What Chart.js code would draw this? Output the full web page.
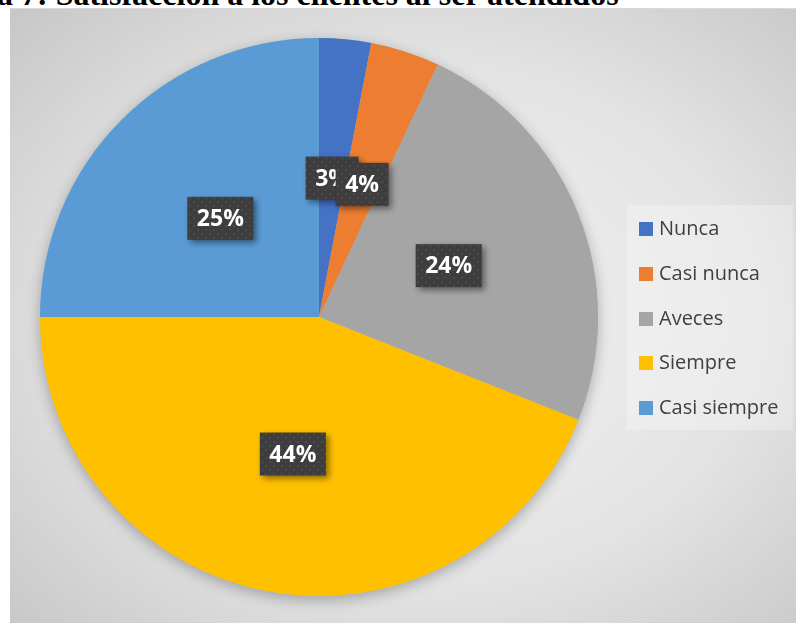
<!DOCTYPE html>
<html lang="es">
<head>
<meta charset="utf-8">
<script src="https://cdn.jsdelivr.net/npm/chart.js@4"></script>
<style>
    html, body { margin: 0; padding: 0; background: #fff; }
    body { width: 796px; height: 623px; position: relative; overflow: hidden; }
    #caption {
        position: absolute; left: -3px; top: -22px;
        font: bold 32px "Liberation Serif", "DejaVu Serif", serif;
        color: #000; white-space: nowrap; line-height: 32px;
    }
    #panel {
        position: absolute; left: 10px; top: 8px; width: 800px; height: 630px;
        box-sizing: border-box; border-top: 1px solid #d9d9d9;
        background: radial-gradient(ellipse 75% 75% at 52% 50%, #f3f3f3 0%, #e3e3e3 55%, #c4c4c4 100%);
    }
    #chartBox { position: absolute; left: 0; top: 0; width: 796px; height: 623px; }
    #legend {
        position: absolute; left: 627px; top: 205px; width: 166px; height: 225px;
        background: rgba(255, 255, 255, 0.28);
        font: 20px "Open Sans", sans-serif; color: #404040;
    }
    #legend div { position: absolute; left: 12px; height: 24px; line-height: 24px; }
    #legend span {
        display: inline-block; width: 14px; height: 14px;
        vertical-align: -1px; margin-right: 6px;
    }
</style>
</head>
<body>
<div id="caption">a 7: Satisfacción a los clientes al ser atendidos</div>
<div id="panel"></div>
<div id="chartBox"><canvas id="satisfactionChart" width="796" height="623"></canvas></div>
<div id="legend"></div>
<script>
const categories = ['Nunca', 'Casi nunca', 'Aveces', 'Siempre', 'Casi siempre'];
const percentages = [3, 4, 24, 44, 25];
const sliceColors = ['#4472C4', '#ED7D31', '#A5A5A5', '#FFC000', '#5B9BD5'];

// legend rows
const legendEl = document.getElementById('legend');
categories.forEach((name, i) => {
    const row = document.createElement('div');
    row.style.top = (11 + i * 44.75) + 'px';
    row.innerHTML = '<span style="background:' + sliceColors[i] + '"></span>' + name;
    legendEl.appendChild(row);
});

function dottedPattern(ctx) {
    const tile = document.createElement('canvas');
    tile.width = 8;
    tile.height = 8;
    const t = tile.getContext('2d');
    t.fillStyle = '#3d3d3d';
    t.fillRect(0, 0, 8, 8);
    t.fillStyle = '#4b4b4b';
    t.fillRect(1, 1, 2, 2);
    t.fillRect(5, 5, 2, 2);
    return ctx.createPattern(tile, 'repeat');
}

// soft shadow under the whole pie
const pieShadow = {
    id: 'pieShadow',
    beforeDatasetsDraw(chart) {
        const arc = chart.getDatasetMeta(0).data[0];
        if (!arc) return;
        const ctx = chart.ctx;
        ctx.save();
        ctx.shadowColor = 'rgba(0,0,0,0.28)';
        ctx.shadowBlur = 14;
        ctx.shadowOffsetY = 4;
        ctx.fillStyle = '#bbbbbb';
        ctx.beginPath();
        ctx.arc(arc.x, arc.y, arc.outerRadius, 0, Math.PI * 2);
        ctx.fill();
        ctx.restore();
    }
};

// percentage labels in dark boxes, half way out each slice
const boxLabels = {
    id: 'boxLabels',
    afterDatasetsDraw(chart) {
        const ctx = chart.ctx;
        const fill = dottedPattern(ctx);
        ctx.save();
        ctx.font = 'bold 23px "Open Sans", sans-serif';
        ctx.textAlign = 'center';
        ctx.textBaseline = 'middle';
        chart.getDatasetMeta(0).data.forEach((arc, i) => {
            const pos = arc.getCenterPoint();
            const text = percentages[i] + '%';
            const w = ctx.measureText(text).width + 19;
            const h = 43;
            ctx.save();
            ctx.shadowColor = 'rgba(0,0,0,0.45)';
            ctx.shadowBlur = 6;
            ctx.shadowOffsetX = 3;
            ctx.shadowOffsetY = 3;
            ctx.fillStyle = fill;
            ctx.fillRect(pos.x - w / 2, pos.y - h / 2, w, h);
            ctx.restore();
            ctx.fillStyle = '#ffffff';
            ctx.fillText(text, pos.x, pos.y + 1);
        });
        ctx.restore();
    }
};

new Chart(document.getElementById('satisfactionChart'), {
    type: 'pie',
    data: {
        labels: categories,
        datasets: [{
            data: percentages,
            backgroundColor: sliceColors,
            borderWidth: 0
        }]
    },
    options: {
        responsive: false,
        animation: false,
        layout: { padding: { left: 40, top: 38, right: 198, bottom: 27 } },
        plugins: {
            legend: { display: false },
            tooltip: { enabled: false }
        }
    },
    plugins: [pieShadow, boxLabels]
});
</script>
</body>
</html>
